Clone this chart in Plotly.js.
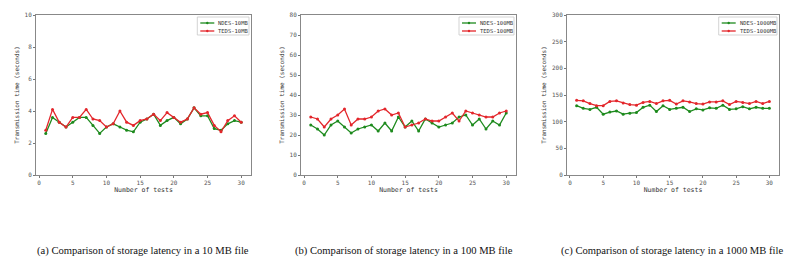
<!DOCTYPE html>
<html><head><meta charset="utf-8">
<script src="https://cdn.plot.ly/plotly-3.0.1.min.js"></script>
<style>html,body{margin:0;padding:0;background:#fff}#c{width:800px;height:267px}</style>
</head><body><div id="c"></div>
<script>
const tests = Array.from({length:30},(_,i)=>i+1);
const ndes10  = [2.6,3.6,3.3,3.0,3.3,3.6,3.6,3.1,2.6,3.0,3.2,3.0,2.8,2.7,3.3,3.5,3.8,3.1,3.4,3.6,3.2,3.5,4.2,3.7,3.7,2.9,2.8,3.2,3.4,3.3];
const teds10  = [2.8,4.1,3.3,3.0,3.6,3.6,4.1,3.5,3.4,3.0,3.2,4.0,3.3,3.1,3.4,3.5,3.8,3.4,3.9,3.6,3.3,3.5,4.2,3.8,3.9,3.1,2.7,3.4,3.7,3.3];
const ndes100 = [25,23,20,25,27,24,21,23,24,25,22,26,22,29,24,27,22,28,26,24,25,26,29,30,25,28,23,27,25,31];
const teds100 = [29,28,24,28,30,33,25,28,28,29,32,33,30,31,24,25,26,28,27,27,29,31,27,32,31,30,29,29,31,32];
const ndes1000 = [130,125,123,127,114,118,120,114,116,117,127,131,119,130,123,125,127,119,124,122,126,125,131,123,124,128,124,127,125,125];
const teds1000 = [140,139,134,130,130,138,139,135,132,131,136,138,134,139,140,133,139,137,134,133,137,137,139,132,138,136,134,138,134,138];
const names = [["NDES-10MB","TEDS-10MB"],["NDES-100MB","TEDS-100MB"],["NDES-1000MB","TEDS-1000MB"]];
const yMax = [10,80,300];
const yDt = [2,10,50];
const captions = ["(a) Comparison of storage latency in a 10 MB file","(b) Comparison of storage latency in a 100 MB file","(c) Comparison of storage latency in a 1000 MB file"];

const W=800,H=267;
const frames = [[36,251],[301,516],[567,779]];
const plotTop=15,plotBottom=175;
const capX=[142.5,404,672];
const green='#1d8a1d', red='#e3262b';
const colors=[green,red];
const series=[[ndes10,teds10],[ndes100,teds100],[ndes1000,teds1000]];
const px=v=>v/W, py=v=>1-v/H;
const data=[]; const layout={width:W,height:H,margin:{l:0,r:0,t:0,b:0},paper_bgcolor:'#fff',plot_bgcolor:'#fff',showlegend:false,annotations:[],shapes:[]};
const mono='DejaVu Sans Mono, monospace';
const tickFont={family:mono,size:6,color:'#555'};
for(let k=0;k<3;k++){
  const s=k===0?'':String(k+1);
  colors.forEach((c,j)=>{
    data.push({x:tests,y:series[k][j],type:'scatter',mode:'lines+markers',name:names[k][j],
      line:{color:c,width:1.3},marker:{color:c,size:3},xaxis:'x'+s,yaxis:'y'+s});
  });
  layout['xaxis'+s]={domain:[px(frames[k][0]),px(frames[k][1])],anchor:'y'+s,range:[-0.45,31.45],
    tickvals:[0,5,10,15,20,25,30],ticks:'outside',ticklen:2,tickcolor:'#777',showline:true,mirror:true,
    linecolor:'#888',linewidth:1,showgrid:false,zeroline:false,tickfont:tickFont,
    title:{text:'Number of tests',font:{family:mono,size:6.5,color:'#333'},standoff:2}};
  layout['yaxis'+s]={domain:[py(plotBottom),py(plotTop)],anchor:'x'+s,range:[0,yMax[k]],dtick:yDt[k],
    ticks:'outside',ticklen:2,tickcolor:'#777',showline:true,mirror:true,linecolor:'#888',linewidth:1,
    showgrid:false,zeroline:false,tickfont:tickFont,
    title:{text:'Transmission time (seconds)',font:{family:mono,size:6,color:'#333'},standoff:4}};
  const maxLen=Math.max(names[k][0].length,names[k][1].length);
  const bw=22+maxLen*3.3;
  const bR=frames[k][1]-2, bL=bR-bw, bT=plotTop+2, bB=plotTop+20;
  layout.shapes.push({type:'rect',xref:'paper',yref:'paper',x0:px(bL),x1:px(bR),y0:py(bB),y1:py(bT),
    line:{color:'#c8c8c8',width:0.8},fillcolor:'#fff',layer:'above'});
  colors.forEach((c,j)=>{
    const yy=bT+6+j*8;
    layout.shapes.push({type:'line',xref:'paper',yref:'paper',x0:px(bL+3),x1:px(bL+17),y0:py(yy),y1:py(yy),
      line:{color:c,width:1.3},layer:'above'});
    layout.shapes.push({type:'circle',xref:'paper',yref:'paper',x0:px(bL+8.8),x1:px(bL+11.2),y0:py(yy+1.2),y1:py(yy-1.2),
      line:{color:c,width:0},fillcolor:c,layer:'above'});
    layout.annotations.push({text:names[k][j],xref:'paper',yref:'paper',x:px(bL+19),y:py(yy),xanchor:'left',yanchor:'middle',
      showarrow:false,font:{family:mono,size:5.5,color:'#333'}});
  });
  layout.annotations.push({text:captions[k],x:px(capX[k]),y:py(251),xref:'paper',yref:'paper',showarrow:false,
    font:{family:'Liberation Serif, Times New Roman, serif',size:10.6,color:'#111'},xanchor:'center',yanchor:'middle'});
}
Plotly.newPlot('c',data,layout,{displayModeBar:false,staticPlot:true});
</script></body></html>
